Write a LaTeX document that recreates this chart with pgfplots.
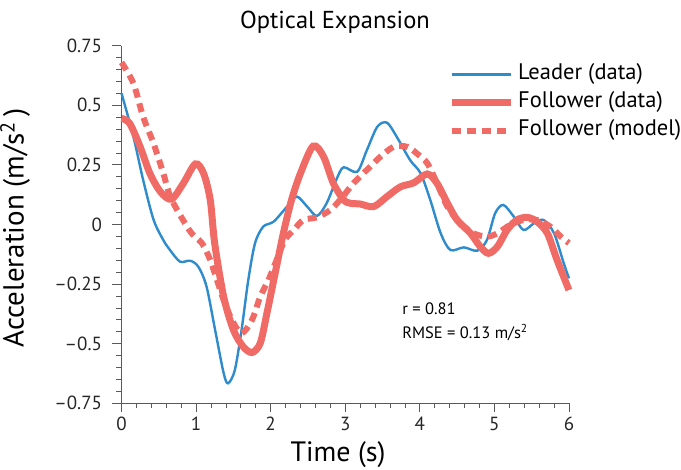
\documentclass[border=0pt]{standalone}
\usepackage{pgfplots}
\pgfplotsset{compat=1.18}
\usepackage{fontspec}
\setmainfont{PT Sans}
\definecolor{lblue}{RGB}{46,139,204}
\definecolor{fred}{RGB}{240,107,102}
\definecolor{axgray}{RGB}{90,90,90}
\begin{document}
\begin{tikzpicture}
\path[use as bounding box] (-121.5pt,-66.7pt) rectangle (559.5pt,403.3pt);
\begin{axis}[
  scale only axis, width=447.5pt, height=357.6pt,
  xmin=0, xmax=6, ymin=-0.75, ymax=0.75,
  axis x line=bottom, axis y line=left,
  axis line style={-, axgray, line width=0.8pt},
  tick align=outside,
  major tick length=9pt, minor tick length=5pt,
  every tick/.style={axgray, line width=0.8pt},
  xtick={0,1,2,3,4,5,6}, xticklabels={0,1,2,3,4,5,6},
  ytick={-0.75,-0.5,-0.25,0,0.25,0.5,0.75},
  yticklabels={–0.75,–0.5,–0.25,0,0.25,0.5,0.75},
  minor x tick num=4, minor y tick num=4,
  tick label style={font=\fontsize{19}{21}\selectfont, text=black!85},
  yticklabel style={xshift=-7pt},
  xticklabel style={yshift=-1pt},
  xlabel={Time (s)},
  xlabel style={at={(rel axis cs:0.484,-0.1633)}, anchor=base, inner sep=0pt, font=\fontsize{28}{32}\selectfont},
  ylabel={Acceleration (m/s\textsuperscript{2}\,)},
  ylabel style={at={(rel axis cs:-0.2187,0.4902)}, anchor=base, rotate=0, inner sep=0pt, font=\fontsize{29}{32}\selectfont},
  legend style={draw=none, fill=none, inner sep=0pt, outer sep=0pt,
    at={(rel axis cs:0.730,0.947)}, anchor=north west,
    font=\fontsize{22.5}{25}\selectfont,
    nodes={inner sep=0pt, text height=15pt, text depth=5pt},
    row sep=8pt, column sep=4pt},
  legend cell align=left,
  legend image code/.code={\draw[#1] (0pt,0pt) -- (59pt,0pt);},
  clip=false,
]
\addplot[lblue, line width=2.4pt, smooth, tension=0.5] coordinates {
(0,0.551) (0.16,0.368) (0.29,0.187) (0.43,0.02) (0.56,-0.065) (0.65,-0.107)
(0.785,-0.156) (0.92,-0.152) (1.03,-0.177) (1.14,-0.26) (1.255,-0.442)
(1.37,-0.624) (1.43,-0.666) (1.52,-0.61) (1.61,-0.442) (1.70,-0.233)
(1.79,-0.079) (1.90,-0.009) (2.04,0.012) (2.22,0.075) (2.35,0.117)
(2.49,0.075) (2.62,0.036) (2.75,0.089) (2.89,0.195) (2.98,0.24)
(3.16,0.221) (3.29,0.312) (3.43,0.41) (3.56,0.427) (3.69,0.368)
(3.87,0.27) (4.01,0.215) (4.14,0.103) (4.28,-0.037) (4.41,-0.107)
(4.59,-0.096) (4.77,-0.11) (4.90,-0.065) (5.01,0.047) (5.12,0.082)
(5.26,0.033) (5.39,-0.023) (5.53,0.005) (5.66,0.019) (5.80,-0.037)
(5.93,-0.163) (6,-0.226)
};
\addlegendentry{Leader (data)}
\addplot[fred, line width=7pt, smooth, tension=0.5] coordinates {
(0,0.445) (0.11,0.424) (0.25,0.326) (0.38,0.215) (0.52,0.138) (0.67,0.106)
(0.83,0.173) (0.99,0.254) (1.10,0.215) (1.19,0.103) (1.25,-0.08)
(1.37,-0.303) (1.50,-0.442) (1.63,-0.512) (1.75,-0.537) (1.86,-0.498)
(1.95,-0.372) (2.06,-0.205) (2.17,-0.037) (2.28,0.103) (2.40,0.215)
(2.57,0.329) (2.71,0.284) (2.84,0.173) (2.98,0.103) (3.07,0.089)
(3.2,0.086) (3.38,0.075) (3.56,0.117) (3.74,0.158) (3.92,0.175)
(4.10,0.212) (4.23,0.173) (4.37,0.089) (4.50,0.019) (4.68,-0.037)
(4.81,-0.093) (4.92,-0.121) (5.04,-0.093) (5.17,-0.023) (5.30,0.019)
(5.44,0.03) (5.57,0.012) (5.71,-0.037) (5.84,-0.149) (6,-0.275)
};
\addlegendentry{Follower (data)}
\addplot[fred, line width=6pt, dash pattern=on 9pt off 6pt, smooth, tension=0.5] coordinates {
(0,0.68) (0.16,0.592) (0.29,0.452) (0.43,0.34) (0.56,0.215) (0.65,0.12)
(0.785,0.04) (0.94,-0.037) (1.08,-0.079) (1.19,-0.149) (1.28,-0.233)
(1.37,-0.317) (1.48,-0.4) (1.61,-0.456) (1.75,-0.4) (1.86,-0.303)
(1.97,-0.233) (2.08,-0.149) (2.19,-0.065) (2.31,-0.023) (2.44,0.019)
(2.62,0.03) (2.80,0.061) (2.95,0.11) (3.11,0.173) (3.29,0.229)
(3.47,0.284) (3.65,0.326) (3.83,0.326) (3.96,0.298) (4.10,0.257)
(4.23,0.173) (4.37,0.075) (4.54,0.005) (4.72,-0.037) (4.90,-0.051)
(5.04,-0.037) (5.21,-0.002) (5.39,0.019) (5.57,0.019) (5.75,-0.009)
(5.89,-0.051) (6,-0.078)
};
\addlegendentry{Follower (model)}
\node[anchor=base, inner sep=0pt, font=\fontsize{24.5}{28}\selectfont] at (rel axis cs:0.477,1.0487) {Optical Expansion};
\node[anchor=base west, inner sep=0pt, font=\fontsize{16.5}{19}\selectfont] at (rel axis cs:0.627,0.2497) {r = 0.81};
\node[anchor=base west, inner sep=0pt, font=\fontsize{16.5}{19}\selectfont] at (rel axis cs:0.627,0.1818) {RMSE = 0.13 m/s\textsuperscript{2}};
\end{axis}
\end{tikzpicture}
\end{document}
